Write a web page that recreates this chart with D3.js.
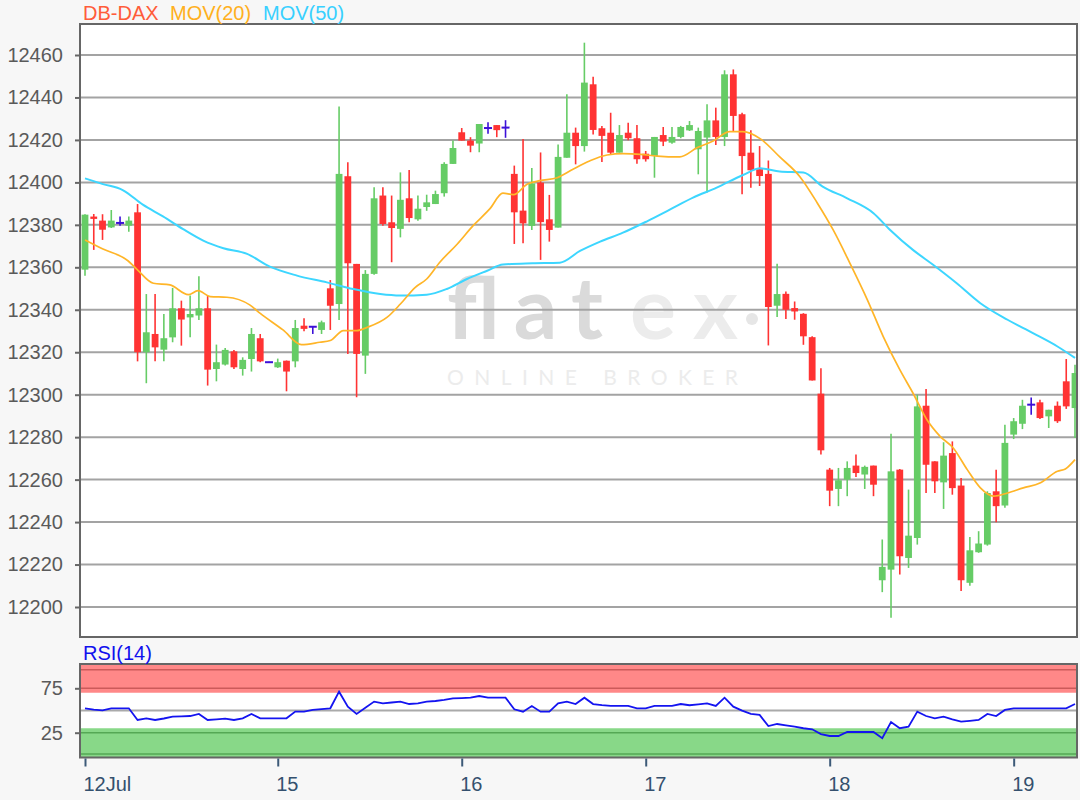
<!DOCTYPE html>
<html><head><meta charset="utf-8">
<script src="https://cdn.jsdelivr.net/npm/d3@7"></script>
<style>
html,body{margin:0;padding:0;background:#f7f7f7;}
svg{display:block;font-family:"Liberation Sans",Arial,sans-serif;}
</style></head><body>
<svg id="c" width="1080" height="800"></svg>
<script>
// ---- data (half-hour candles, index 0..113) ----
const opens=[12358.9,12383.9,12382,12378.8,12380.9,12379.6,12385.9,12320,12328.6,12321.2,
12327,12340.7,12336.4,12337.3,12340.7,12312.1,12314.2,12320.4,12312.1,12316.8,
12326.6,12315.3,12312.9,12316,12315.7,12332.5,12332,12330.5,12350.1,12342.7,
12402.9,12361.6,12318.4,12356.9,12393.8,12381.2,12378.1,12392.5,12382.6,12388.4,
12389.8,12394.9,12408.7,12423.6,12419.7,12418.3,12425.6,12427,12425.8,12404,
12386.7,12379.5,12399.9,12382.6,12378.7,12411.6,12423.4,12417.1,12446.2,12425.5,
12423.4,12414,12423.4,12420.8,12413.5,12412.4,12422.3,12418.7,12421.4,12424.5,
12415.6,12421.1,12429.2,12421.4,12450.9,12432.1,12414,12406.2,12404,12341.9,
12347.5,12340.8,12338.1,12327.1,12300.5,12264.7,12255.6,12260,12266.6,12262.4,
12266.6,12212.6,12217.6,12264.7,12223.1,12232.5,12294.8,12268.6,12258.7,12272.5,
12257.2,12211.4,12225.8,12229.4,12254.5,12247.8,12281.2,12286.3,12295.3,12296.4,
12289.8,12294.8,12306.3,12293.7];
const highs=[12385,12385.1,12385,12387,12383.9,12383.9,12389.8,12347.4,12347.4,12338,
12350.3,12344.3,12346.7,12355.8,12346.7,12323.6,12322,12321,12317.6,12331.4,
12328.6,12315.5,12317,12316.1,12335.2,12336,12332,12334.9,12354,12435.8,
12409.5,12361.6,12358.7,12397.7,12397.7,12393.8,12404.7,12405.8,12393.8,12394.2,
12396.1,12409.5,12419.7,12425.6,12421.3,12427.5,12428.3,12427,12429.3,12407.9,
12420.4,12406.8,12414.1,12394.1,12417.9,12441.5,12425.8,12465.8,12449.8,12426.6,
12432.8,12427,12428.1,12427,12414.8,12421.4,12426.1,12426.1,12426.6,12428.9,
12425.8,12436.8,12435.2,12452.8,12453.2,12432.8,12424.5,12417.1,12410.3,12361.7,
12348.6,12343.9,12338.4,12327.5,12312.5,12265.5,12265.5,12268.6,12271.8,12266.6,
12266.6,12231.8,12281.6,12265,12255.3,12300,12302.7,12268.6,12277.6,12278,
12260.8,12233,12235.7,12254.5,12264.7,12285.9,12289,12297.6,12298.7,12297.6,
12292.9,12296.8,12316.8,12314.1];
const lows=[12356,12368.2,12372.9,12378.5,12379.6,12376.8,12315.7,12305.4,12315.7,12315.7,
12324.7,12323.1,12327,12335.2,12304.3,12306.3,12313.7,12312.1,12309,12310.9,
12315.3,12315,12312.6,12301.6,12312.9,12329.9,12328.6,12328.6,12330.5,12335.2,
12319.2,12298.8,12309.8,12356.5,12379.6,12362.4,12374.1,12381.2,12381.9,12386.6,
12389.8,12393.3,12408.7,12419.7,12414.2,12414.2,12422.9,12421.3,12421,12371,
12371.3,12377.6,12363.5,12372.1,12378.7,12411.6,12408.5,12414.5,12422.6,12409.6,
12413.2,12414,12419.8,12408.8,12409.8,12402.2,12417.1,12418.2,12420.8,12424.2,
12403.8,12395.2,12417.6,12417.1,12424.2,12394.4,12397.5,12398.3,12323.2,12336.6,
12335.6,12335.3,12323.5,12306.7,12271.8,12247.5,12247.5,12252.2,12261.2,12255.6,
12252.2,12207,12194.9,12215.3,12218.4,12229.4,12253.7,12253.7,12246.2,12252.9,
12207.5,12210,12225.5,12228.9,12239.9,12246.7,12279.1,12283.8,12290.6,12288.5,
12284.3,12286.7,12293.3,12279.6];
const closes=[12384.8,12382.8,12377.7,12382,12380.9,12382,12320,12329.4,12322.3,12326.6,
12340.7,12335.4,12338,12340.7,12311.8,12315.3,12321.1,12312.9,12316.4,12328.6,
12315.7,12315.3,12315.3,12310.9,12331.4,12331,12332,12334.1,12341.9,12404,
12361.9,12319.2,12356.9,12392.5,12380.4,12378.5,12391.8,12383.2,12387.6,12390.6,
12394.5,12408.7,12416.2,12419.7,12417.3,12427.5,12425.6,12424.6,12425.8,12385.9,
12380.7,12399.5,12381.3,12377.6,12412,12423.4,12417.1,12447,12424.7,12421.9,
12414,12422.3,12420.8,12410.9,12410.9,12421.4,12419.2,12421.4,12426.1,12427,
12424.2,12429.2,12421.4,12450.9,12431.3,12412.4,12405.7,12403,12341.3,12347.4,
12340,12339.2,12327.5,12306.7,12273.8,12254.8,12259.7,12265.5,12263.1,12266,
12257.6,12218.9,12263.9,12223.9,12233.6,12294.5,12267,12259.2,12271.3,12256,
12212.6,12226.7,12229.9,12253.7,12247.5,12277.3,12287.5,12294.8,12295.3,12289,
12292.9,12287.5,12294.5,12310.2];
// moving averages: [candle index, value]
const ma20=[[0,12372.9],[2.05,12368.6],[4.9,12363.1],[5.9,12359.2],[7.8,12352.5],[9.7,12351.7],[11.8,12347.1],[12.9,12349],[14.3,12346.2],[16.2,12345.9],[18.8,12342.3],[20,12338.3],[22.6,12330.5],[24.7,12323.6],[26.8,12324.7],[28,12325.5],[29.5,12330.2],[31,12330.2],[32.2,12331.7],[34.5,12336.5],[36,12342.7],[37.7,12350.6],[39,12354.5],[40.5,12362.4],[42.5,12371],[44.3,12379.6],[46.2,12387.5],[47.7,12394.9],[48.9,12394.2],[50.5,12399.2],[51.9,12400.8],[53.9,12402.2],[55.7,12406.2],[57.6,12410.1],[59.6,12412.9],[61.4,12413.5],[63.4,12413.2],[65.3,12412.4],[67.9,12412],[69.9,12416.4],[71.7,12419.5],[73.6,12423.9],[75.1,12423.9],[77.1,12420.5],[79.3,12412],[81.6,12402.7],[83.6,12390.2],[85.4,12377.6],[87.3,12362],[89.3,12344.7],[91.1,12327.5],[93,12311.8],[94.5,12300.8],[96.1,12288.2],[97.6,12280.4],[99.1,12274.9],[100.7,12264.7],[102.2,12256.1],[103.7,12252.2],[105.3,12253.7],[107.1,12256.1],[109,12258.4],[111,12263.9],[111.9,12265],[113,12269.4]];
const ma50=[[0,12401.9],[2.05,12399.2],[4.3,12396.4],[6.6,12389.5],[8.9,12384],[11.2,12378],[13.5,12372.6],[15.8,12369],[18.5,12366.3],[21.1,12360.3],[24.2,12356.1],[27.6,12352.9],[30.6,12349.8],[33.7,12347.4],[36,12346.7],[39,12347.1],[41.3,12349.8],[43.6,12354.5],[45.9,12358.4],[47.7,12361.3],[51.1,12361.9],[54.2,12362.2],[56.5,12367.7],[58.8,12372.1],[61.4,12376.3],[64.2,12381.8],[66.8,12387.3],[69.4,12392.8],[72.1,12397.5],[75.1,12403.5],[77.1,12406.6],[79.3,12405.1],[82,12404.6],[84.2,12398],[87,12392.5],[90,12385.5],[91.9,12377.6],[94.5,12368.2],[96.8,12361.2],[99.5,12352.5],[102.2,12343.1],[105.3,12335.3],[108.2,12329],[111,12322.7],[113,12317.3]];
const rsi=[52.5,51,50.2,52.5,52.5,52.5,39.3,41.2,39.3,41,
43,43.4,43.8,46.1,39.3,40,40.8,39.3,41.2,46.1,
41.2,41.2,41.2,41.2,48.7,48.7,50.6,51.5,52.5,71.2,
54.3,46.1,53,60,58.1,59,60,57.3,58.1,60,
60.7,62,63.7,64,64.4,66.3,64.4,64.4,64.4,51.4,
48.7,55.1,48.7,48.7,58.1,60,57.3,64.4,57.3,56,
55.1,55.1,55.1,52.5,52.5,55.1,55.1,55.1,57.3,55.9,
57,58.1,55.1,64.4,54.3,49.8,46.1,45,32.5,34.8,
33.3,31.8,30,28.8,23.5,21.3,21.3,25.8,25.8,25.8,
25.8,18.7,37,30,31.8,48.7,43.8,41.2,43,40,
37.4,38.3,39.3,46.1,43.8,50.6,52.5,52.5,52.5,52.5,
52.5,52.5,52.5,57.3];
const dayTickIndex=[0,22,43,64,85,106];
const dayTickLabels=["12Jul","15","16","17","18","19"];
const priceTicks=[12200,12220,12240,12260,12280,12300,12320,12340,12360,12380,12400,12420,12440,12460];
const rsiTicks=[75,25];
const rsiBandLines=[96,75,25,1];
const legendItems=["DB-DAX","MOV(20)","MOV(50)"];

// ---- layout ----
const svg=d3.select("#c");
const P={l:80,r:1077,t:24,b:637};
const R={l:80,r:1077,t:664,b:757.5};
const x=d3.scaleLinear().domain([0,113]).range([85,1075]);
const y=d3.scaleLinear().domain([12200,12460]).range([607,55]);
const yr=d3.scaleLinear().domain([25,75]).range([732.7,688.3]);
const rsiTop=yr.invert(R.t), rsiBot=yr.invert(R.b);

const defs=svg.append("defs");
defs.append("clipPath").attr("id","cp").append("rect").attr("x",P.l).attr("y",P.t).attr("width",P.r-P.l).attr("height",P.b-P.t);
defs.append("clipPath").attr("id","cr").append("rect").attr("x",R.l).attr("y",R.t).attr("width",R.r-R.l).attr("height",R.b-R.t);

// main panel
svg.append("rect").attr("x",P.l).attr("y",P.t).attr("width",P.r-P.l).attr("height",P.b-P.t).attr("fill","#fff");
// watermark
const wm=svg.append("g").attr("clip-path","url(#cp)");
wm.append("text").attr("x",447).attr("y",339).attr("font-family","Lato, 'Open Sans', sans-serif").attr("font-size",86)
  .attr("font-weight",700).attr("fill","#dadada").attr("textLength",156).attr("lengthAdjust","spacing").text("flat");
wm.append("text").attr("x",630).attr("y",339).attr("font-family","Lato, 'Open Sans', sans-serif").attr("font-size",86)
  .attr("font-weight",700).attr("fill","#ececec").attr("textLength",108).attr("lengthAdjust","spacing").text("ex");
wm.append("circle").attr("cx",752).attr("cy",319).attr("r",6).attr("fill","#e6e6e6");
wm.append("text").attr("x",447).attr("y",385).attr("font-family","Lato, 'Open Sans', sans-serif").attr("font-size",21)
  .attr("fill","#ececec").attr("textLength",291).attr("lengthAdjust","spacing").text("ONLINE BROKER");

// gridlines
svg.append("g").selectAll("line").data(priceTicks).join("line")
  .attr("x1",P.l).attr("x2",P.r).attr("y1",d=>y(d)).attr("y2",d=>y(d))
  .attr("stroke","#a3a3a3").attr("stroke-width",2);

// candles
const candles=opens.map((o,i)=>({i,o,h:highs[i],l:lows[i],c:closes[i]}));
const col=d=>d.c>d.o?"#66cc66":(d.c<d.o?"#ff3333":"#3c10d8");
const cg=svg.append("g").attr("clip-path","url(#cp)");
cg.selectAll("line.w").data(candles).join("line").attr("class","w")
  .attr("x1",d=>x(d.i)).attr("x2",d=>x(d.i)).attr("y1",d=>y(d.h)).attr("y2",d=>y(d.l))
  .attr("stroke",col).attr("stroke-width",1.6);
cg.selectAll("rect.b").data(candles.filter(d=>d.o!==d.c)).join("rect").attr("class","b")
  .attr("x",d=>x(d.i)-3.4).attr("width",6.8)
  .attr("y",d=>y(Math.max(d.o,d.c))).attr("height",d=>Math.max(1.5,Math.abs(y(d.o)-y(d.c))))
  .attr("fill",col);
cg.selectAll("line.d").data(candles.filter(d=>d.o===d.c)).join("line").attr("class","d")
  .attr("x1",d=>x(d.i)-4).attr("x2",d=>x(d.i)+4).attr("y1",d=>y(d.o)).attr("y2",d=>y(d.o))
  .attr("stroke",col).attr("stroke-width",2);

// moving averages
const lg=d3.line().x(d=>x(d[0])).y(d=>y(d[1])).curve(d3.curveMonotoneX);
cg.append("path").attr("d",lg(ma50)).attr("fill","none").attr("stroke","#3dd6ff").attr("stroke-width",2);
cg.append("path").attr("d",lg(ma20)).attr("fill","none").attr("stroke","#ffb528").attr("stroke-width",1.7);

// frame + y axis
svg.append("rect").attr("x",P.l).attr("y",P.t).attr("width",P.r-P.l).attr("height",P.b-P.t)
  .attr("fill","none").attr("stroke","#666").attr("stroke-width",2);
const ya=svg.append("g").attr("transform",`translate(${P.l},0)`)
  .call(d3.axisLeft(y).tickValues(priceTicks).tickSize(5).tickPadding(12).tickFormat(d3.format("d")));
ya.select(".domain").remove();
ya.selectAll(".tick line").attr("stroke","#666").attr("stroke-width",2);
ya.selectAll(".tick text").attr("fill","#5a5a5a").attr("font-size",20).attr("font-family","'Liberation Sans',Arial,sans-serif");

// legend
const lcols=["#ff5c3a","#ffb020","#38d0ff"], lx=[83,170,263];
svg.append("g").selectAll("text").data(legendItems).join("text")
  .attr("x",(d,i)=>lx[i]).attr("y",20).attr("font-size",20).attr("fill",(d,i)=>lcols[i]).text(d=>d);

// RSI panel
svg.append("rect").attr("x",R.l).attr("y",R.t).attr("width",R.r-R.l).attr("height",R.b-R.t).attr("fill","#fff");
const rg=svg.append("g").attr("clip-path","url(#cr)");
rg.append("rect").attr("x",R.l).attr("width",R.r-R.l).attr("y",yr(rsiTop)).attr("height",yr(70)-yr(rsiTop)).attr("fill","#ff8888");
rg.append("rect").attr("x",R.l).attr("width",R.r-R.l).attr("y",yr(30)).attr("height",yr(rsiBot)-yr(30)).attr("fill","#88d888");
rg.selectAll("line.bl").data(rsiBandLines).join("line").attr("class","bl")
  .attr("x1",R.l).attr("x2",R.r).attr("y1",d=>yr(d)).attr("y2",d=>yr(d))
  .attr("stroke",d=>d>50?"#cc5a5a":"#55a855").attr("stroke-width",1.5);
rg.append("line").attr("x1",R.l).attr("x2",R.r).attr("y1",yr(50)).attr("y2",yr(50)).attr("stroke","#aaa").attr("stroke-width",2);
rg.append("path").attr("d",d3.line().x((d,i)=>x(i)).y(d=>yr(d))(rsi)).attr("fill","none").attr("stroke","#1414f0").attr("stroke-width",1.8);
svg.append("rect").attr("x",R.l).attr("y",R.t).attr("width",R.r-R.l).attr("height",R.b-R.t)
  .attr("fill","none").attr("stroke","#666").attr("stroke-width",2);
const ra=svg.append("g").attr("transform",`translate(${R.l},0)`)
  .call(d3.axisLeft(yr).tickValues(rsiTicks).tickSize(5).tickPadding(12));
ra.select(".domain").remove();
ra.selectAll(".tick line").attr("stroke","#666").attr("stroke-width",2);
ra.selectAll(".tick text").attr("fill","#5a5a5a").attr("font-size",20).attr("font-family","'Liberation Sans',Arial,sans-serif");
svg.append("text").attr("x",83).attr("y",660).attr("font-size",20).attr("fill","#1010ee").text("RSI(14)");

// x axis
const xa=svg.append("g").attr("transform",`translate(0,${R.b+1})`)
  .call(d3.axisBottom(x).tickValues(dayTickIndex).tickSize(8).tickFormat((d,i)=>dayTickLabels[i]));
xa.select(".domain").remove();
xa.selectAll(".tick line").attr("stroke","#3d5a78").attr("stroke-width",2);
xa.selectAll(".tick text").attr("fill","#34506e").attr("font-size",20).attr("font-family","'Liberation Sans',Arial,sans-serif")
  .attr("text-anchor","start").attr("x",-2).attr("y",18);
</script>
</body></html>
